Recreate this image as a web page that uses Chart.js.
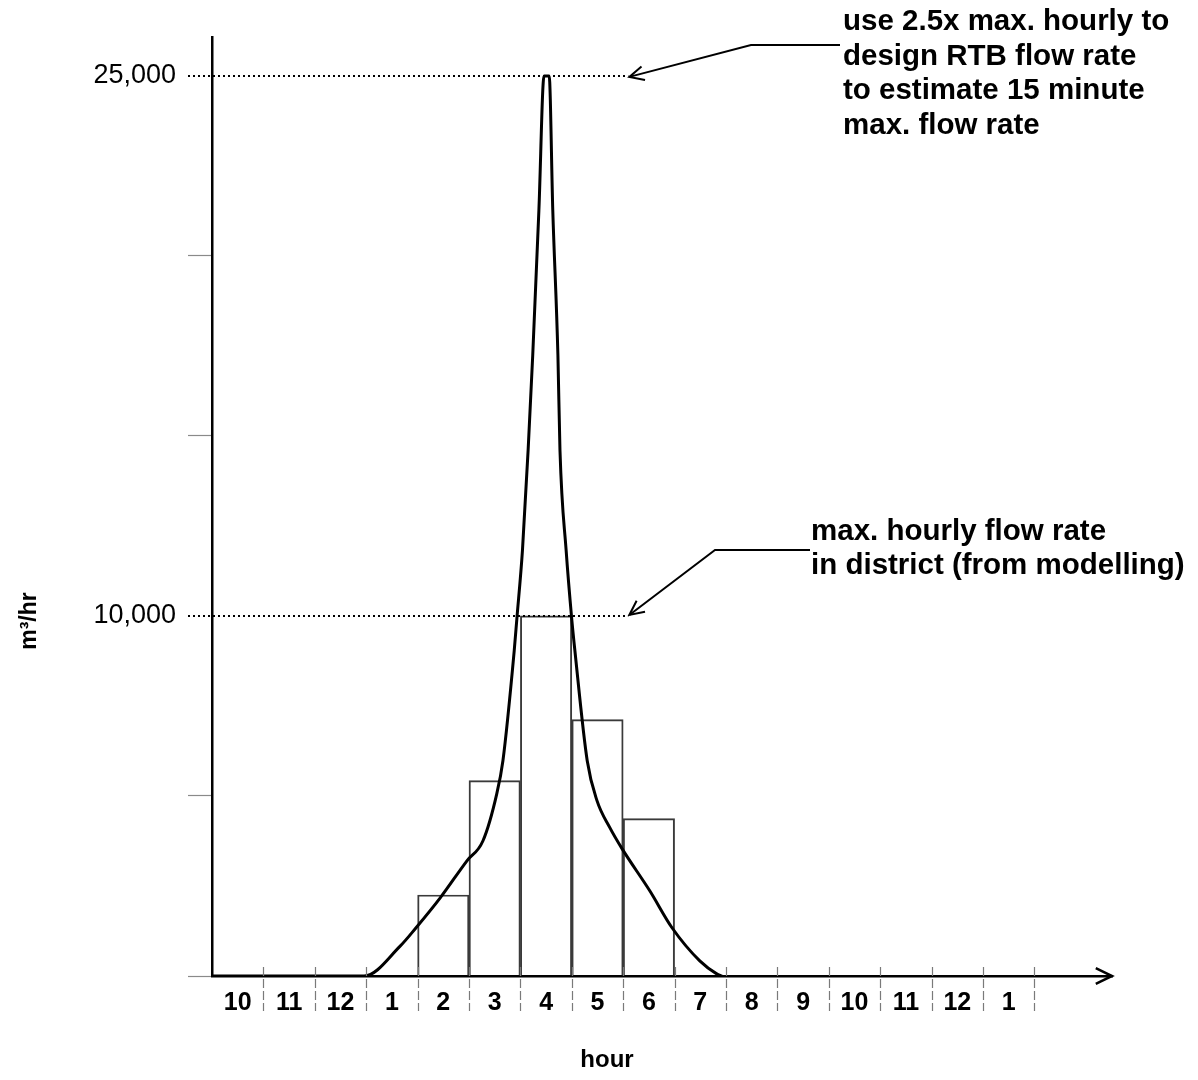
<!DOCTYPE html>
<html>
<head>
<meta charset="utf-8">
<script src="https://cdn.jsdelivr.net/npm/chart.js@4.4.1/dist/chart.umd.min.js"></script>
<style>
  html, body { margin: 0; padding: 0; background: #fff; }
  #wrap { width: 1198px; height: 1080px; position: relative; }
</style>
</head>
<body>
<div id="wrap"><canvas id="c"></canvas></div>
<script>
// Hour slots along the time axis
const hourLabels = ['10', '11', '12', '1', '2', '3', '4', '5', '6', '7', '8', '9', '10', '11', '12', '1'];

// Hourly average flow per slot (m3/hr), null where no flow block is drawn
const hourlyFlow = [null, null, null, null, 2250, 5430, 10000, 7120, 4370, null, null, null, null, null, null, null];

// Instantaneous flow curve: position in hours from the start of the axis, flow in m3/hr
const curveHour = [0, 2.96, 3.66, 3.97, 4.44, 4.96, 5.27, 5.54, 5.66, 5.88, 5.93, 6.04, 6.15, 6.24, 6.36, 6.46,
                   6.56, 6.63, 6.73, 6.77, 6.89, 7.00, 7.06, 7.30, 7.49, 7.74, 7.98, 8.52, 8.95, 9.49, 9.82, 9.92];
const curveFlow = [0, 0, 830, 1340, 2170, 3200, 3750, 5060, 5980, 9040, 9900, 11820, 14600, 17240, 21270, 25000,
                   25000, 21270, 17240, 14600, 11820, 9900, 9040, 5980, 4870, 4120, 3530, 2360, 1340, 420, 60, 0];

// Reference levels
const hourlyMax = 10000;
const peakRate = 25000;
const yTickValues = [0, 5000, 10000, 15000, 20000, 25000];
const labelledLevels = [hourlyMax, peakRate];

const FONT = '"Liberation Sans", Arial, sans-serif';

const barData = hourlyFlow
  .map((v, i) => (v === null ? null : { x: i + 0.5, y: v }))
  .filter(p => p !== null);
const curveData = curveHour.map((h, i) => ({ x: h, y: curveFlow[i] }));

function arrowHead(ctx, fromX, fromY, tipX, tipY, len, spread) {
  const a = Math.atan2(tipY - fromY, tipX - fromX);
  ctx.beginPath();
  ctx.moveTo(tipX - len * Math.cos(a - spread), tipY - len * Math.sin(a - spread));
  ctx.lineTo(tipX, tipY);
  ctx.lineTo(tipX - len * Math.cos(a + spread), tipY - len * Math.sin(a + spread));
  ctx.stroke();
}

const decorations = {
  id: 'decorations',
  afterDatasetsDraw(chart) {
    const { ctx, chartArea, scales } = chart;
    const xs = scales.x, ys = scales.y;
    ctx.save();

    // hour slot separators below the axis
    ctx.strokeStyle = '#7a7a7a';
    ctx.lineWidth = 1.2;
    ctx.setLineDash([9, 3]);
    for (let i = 1; i <= hourLabels.length; i++) {
      const px = Math.round(xs.getPixelForValue(i)) + 0.5;
      ctx.beginPath();
      ctx.moveTo(px, chartArea.bottom - 9);
      ctx.lineTo(px, chartArea.bottom + 35);
      ctx.stroke();
    }
    ctx.setLineDash([]);

    // dotted reference levels
    const tipX = xs.getPixelForValue(8.1);
    ctx.strokeStyle = '#000';
    ctx.lineWidth = 1.8;
    ctx.setLineDash([2, 3]);
    labelledLevels.forEach(v => {
      const py = Math.round(ys.getPixelForValue(v));
      ctx.beginPath();
      ctx.moveTo(chartArea.left - 24, py);
      ctx.lineTo(tipX, py);
      ctx.stroke();
    });
    ctx.setLineDash([]);

    // x axis arrow head
    ctx.lineWidth = 2.5;
    const ay = chartArea.bottom;
    arrowHead(ctx, chartArea.right - 50, ay, chartArea.right, ay, 18, 0.45);

    // leader arrows for the notes
    ctx.lineWidth = 2;
    const yPeak = ys.getPixelForValue(peakRate);
    ctx.beginPath();
    ctx.moveTo(840, 45);
    ctx.lineTo(751, 45);
    ctx.lineTo(tipX + 1, yPeak + 1);
    ctx.stroke();
    arrowHead(ctx, 751, 45, tipX + 1, yPeak + 1, 16, 0.45);

    const yHour = ys.getPixelForValue(hourlyMax);
    ctx.beginPath();
    ctx.moveTo(810, 550);
    ctx.lineTo(715, 550);
    ctx.lineTo(tipX + 1, yHour - 1);
    ctx.stroke();
    arrowHead(ctx, 715, 550, tipX + 1, yHour - 1, 16, 0.45);

    // notes
    ctx.fillStyle = '#000';
    ctx.textAlign = 'left';
    ctx.textBaseline = 'alphabetic';
    ctx.font = 'bold 29.5px ' + FONT;
    ['use 2.5x max. hourly to', 'design RTB flow rate', 'to estimate 15 minute', 'max. flow rate']
      .forEach((t, i) => ctx.fillText(t, 843, 30 + i * 34.5));
    ['max. hourly flow rate', 'in district (from modelling)']
      .forEach((t, i) => ctx.fillText(t, 811, 540 + i * 34));

    // axis titles
    ctx.font = 'bold 24px ' + FONT;
    ctx.textAlign = 'center';
    ctx.textBaseline = 'middle';
    ctx.fillText('hour', 607, 1060);
    ctx.save();
    ctx.translate(30, 621);
    ctx.rotate(-Math.PI / 2);
    ctx.font = 'bold 23px ' + FONT;
    ctx.fillText('m\u00B3/hr', 0, 0);
    ctx.restore();

    ctx.restore();
  }
};

new Chart(document.getElementById('c'), {
  type: 'bar',
  data: {
    datasets: [
      {
        type: 'line',
        data: curveData,
        borderColor: '#000',
        borderWidth: 3,
        pointRadius: 0,
        cubicInterpolationMode: 'monotone',
        fill: false,
        order: 0
      },
      {
        type: 'bar',
        data: barData,
        backgroundColor: 'rgba(255,255,255,0)',
        borderColor: '#3a3a3a',
        borderWidth: 1.3,
        barPercentage: 1,
        categoryPercentage: 1,
        order: 1
      }
    ]
  },
  options: {
    responsive: true,
    maintainAspectRatio: false,
    animation: false,
    events: [],
    layout: { padding: { top: 37, right: 86, bottom: 0, left: 0 } },
    plugins: { legend: { display: false }, tooltip: { enabled: false } },
    scales: {
      x: {
        type: 'linear',
        min: 0,
        max: 17.51,
        offset: false,
        afterBuildTicks: s => { s.ticks = hourLabels.map((_, i) => ({ value: i + 0.5 })); },
        afterFit: s => { s.height = 104; },
        grid: { display: true, drawOnChartArea: false, drawTicks: false, color: 'rgba(0,0,0,0)' },
        border: { display: true, color: '#000', width: 2.5 },
        ticks: {
          autoSkip: false,
          maxRotation: 0,
          padding: 12,
          color: '#000',
          font: { family: FONT, size: 25, weight: 'bold' },
          callback: (v, i) => hourLabels[i]
        }
      },
      y: {
        type: 'linear',
        min: 0,
        max: 26080,
        afterBuildTicks: s => { s.ticks = yTickValues.map(v => ({ value: v })); },
        afterFit: s => { s.width = 212; },
        grid: {
          drawOnChartArea: false,
          drawTicks: true,
          tickLength: 24,
          tickWidth: 1.2,
          tickColor: c => (labelledLevels.includes(c.tick && c.tick.value) ? 'rgba(0,0,0,0)' : '#8a8a8a')
        },
        border: { display: true, color: '#000', width: 2.5 },
        ticks: {
          padding: 12,
          color: '#000',
          font: { family: FONT, size: 27 },
          callback: v => (labelledLevels.includes(v) ? v.toLocaleString('en-US') : '')
        }
      }
    }
  },
  plugins: [decorations]
});
</script>
</body>
</html>
